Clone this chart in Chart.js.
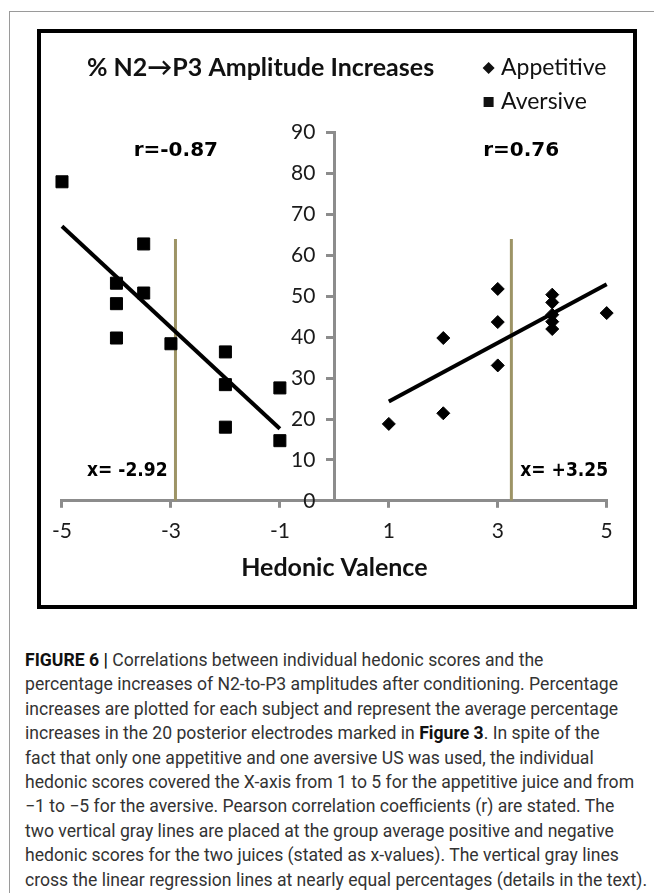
<!DOCTYPE html>
<html>
<head>
<meta charset="utf-8">
<script src="https://cdn.jsdelivr.net/npm/chart.js@4.4.1/dist/chart.umd.min.js"></script>
<style>
  html, body { margin: 0; padding: 0; background: #fff; }
  body { width: 654px; height: 893px; position: relative; overflow: hidden; }
  .page { position: absolute; left: 9px; top: 11px; width: 700px; height: 900px;
          border-left: 1px solid #9a9a9a; border-top: 1px solid #9a9a9a; }
  .frame { position: absolute; left: 37px; top: 29px; width: 592px; height: 572px; border: 4px solid #000; }
  #chartWrap { position: absolute; left: 41px; top: 33px; width: 592px; height: 572px; }
  .caption { position: absolute; left: 25px; top: 648px; font-family: Roboto, sans-serif; font-size: 17.6px;
             line-height: 24.4px; color: #333; white-space: nowrap; }
  .caption b { color: #111; }
</style>
</head>
<body>
<div class="page"></div>
<div class="frame"></div>
<div id="chartWrap"><canvas id="hedonicChart"></canvas></div>
<div class="caption">
  <b>FIGURE 6 |</b> Correlations between individual hedonic scores and the<br>
  percentage increases of N2-to-P3 amplitudes after conditioning. Percentage<br>
  increases are plotted for each subject and represent the average percentage<br>
  increases in the 20 posterior electrodes marked in <b>Figure 3</b>. In spite of the<br>
  fact that only one appetitive and one aversive US was used, the individual<br>
  hedonic scores covered the X-axis from 1 to 5 for the appetitive juice and from<br>
  &minus;1 to &minus;5 for the aversive. Pearson correlation coefficients (r) are stated. The<br>
  two vertical gray lines are placed at the group average positive and negative<br>
  hedonic scores for the two juices (stated as x-values). The vertical gray lines<br>
  cross the linear regression lines at nearly equal percentages (details in the text).
</div>
<script>
// hedonic scores (x) and % N2->P3 amplitude increase (y) per subject
const appetitiveX = [1, 2, 2, 3, 3, 3, 4, 4, 4, 4, 4, 5];
const appetitiveY = [18.8, 39.8, 21.4, 51.8, 43.7, 33.1, 50.4, 48.5, 45.5, 43.8, 42.0, 45.9];
const aversiveX = [-5, -4, -4, -4, -3.5, -3.5, -3, -2, -2, -2, -1, -1];
const aversiveY = [78.0, 53.2, 48.2, 39.8, 62.8, 50.8, 38.4, 36.4, 28.4, 18.0, 27.6, 14.7];

const xTicks = [-5, -3, -1, 1, 3, 5];
const yTicks = [0, 10, 20, 30, 40, 50, 60, 70, 80, 90];
const meanLineSpan = [0, 64];          // vertical gray lines drawn from y=0 up to ~64
const rLabels = ['r=-0.87', 'r=0.76'];
const meanLabels = ['x= -2.92', 'x= +3.25'];
const seriesNames = ['Appetitive', 'Aversive'];
const chartTitle = '% N2\u2192P3 Amplitude Increases';

Chart.defaults.font.family = 'Lato, sans-serif';
Chart.defaults.color = '#1a1a1a';

function toPoints(xs, ys) {
    return xs.map((x, i) => ({ x: x, y: ys[i] }));
}

function mean(arr) {
    return arr.reduce((a, b) => a + b, 0) / arr.length;
}

// least squares line across the range of the scores
function fitLine(xs, ys) {
    const mx = mean(xs), my = mean(ys);
    let sxy = 0, sxx = 0;
    xs.forEach((x, i) => { sxy += (x - mx) * (ys[i] - my); sxx += (x - mx) * (x - mx); });
    const slope = sxy / sxx;
    const x0 = Math.min(...xs), x1 = Math.max(...xs);
    return [{ x: x0, y: my + slope * (x0 - mx) }, { x: x1, y: my + slope * (x1 - mx) }];
}

function meanLine(xs) {
    const m = mean(xs);
    return [{ x: m, y: meanLineSpan[0] }, { x: m, y: meanLineSpan[1] }];
}

const axisGray = '#8c8c8c';
const guideColor = '#9d9466';

// title, legend and the r / x= labels
const figureText = {
    id: 'figureText',
    afterDraw(chart) {
        const { ctx, scales: { x, y } } = chart;
        ctx.save();
        ctx.fillStyle = '#111';
        ctx.textBaseline = 'middle';

        ctx.textAlign = 'left';
        ctx.font = 'bold 25px Lato';
        ctx.fillText(chartTitle, 46, 35);

        ctx.font = '23px Lato';
        // diamond
        ctx.beginPath();
        ctx.moveTo(447.6, 35 - 6); ctx.lineTo(453.6, 35); ctx.lineTo(447.6, 35 + 6); ctx.lineTo(441.6, 35);
        ctx.closePath(); ctx.fill();
        ctx.fillText(seriesNames[0], 460, 35);
        // square
        ctx.fillRect(442.6, 69 - 5, 10, 10);
        ctx.fillText(seriesNames[1], 460, 69);

        ctx.fillStyle = '#000';
        ctx.textAlign = 'center';
        ctx.font = 'bold 20px "DejaVu Sans"';
        ctx.fillText(rLabels[0], x.getPixelForValue(-2.91), y.getPixelForValue(85.6));
        ctx.fillText(rLabels[1], x.getPixelForValue(3.43), y.getPixelForValue(85.6));
        ctx.font = 'bold 19px "DejaVu Sans Condensed", "DejaVu Sans"';
        ctx.fillText(meanLabels[0], x.getPixelForValue(-3.8), y.getPixelForValue(7.3));
        ctx.fillText(meanLabels[1], x.getPixelForValue(4.22), y.getPixelForValue(7.3));
        ctx.restore();
    }
};

const ctx = document.getElementById('hedonicChart').getContext('2d');
new Chart(ctx, {
    type: 'scatter',
    data: {
        datasets: [
            { label: seriesNames[0], data: toPoints(appetitiveX, appetitiveY), pointStyle: 'rectRot',
              pointRadius: 6.5, backgroundColor: '#000', borderColor: '#000', borderWidth: 1, order: 1, clip: false },
            { label: seriesNames[1], data: toPoints(aversiveX, aversiveY), pointStyle: 'rect',
              pointRadius: 8.5, backgroundColor: '#000', borderColor: '#000', borderWidth: 1, order: 1, clip: false },
            { type: 'line', data: fitLine(aversiveX, aversiveY), borderColor: '#000', borderWidth: 4,
              pointRadius: 0, fill: false, order: 0, clip: false },
            { type: 'line', data: fitLine(appetitiveX, appetitiveY), borderColor: '#000', borderWidth: 4,
              pointRadius: 0, fill: false, order: 0, clip: false },
            { type: 'line', data: meanLine(aversiveX), borderColor: guideColor, borderWidth: 3,
              pointRadius: 0, fill: false, order: 2 },
            { type: 'line', data: meanLine(appetitiveX), borderColor: guideColor, borderWidth: 3,
              pointRadius: 0, fill: false, order: 2 }
        ]
    },
    options: {
        responsive: true,
        maintainAspectRatio: false,
        animation: false,
        layout: { padding: { left: 19.7, right: 26.3, top: 99.7, bottom: 25 } },
        plugins: { legend: { display: false }, tooltip: { enabled: false } },
        scales: {
            x: {
                type: 'linear', min: xTicks[0], max: xTicks[xTicks.length - 1],
                afterBuildTicks: scale => { scale.ticks = xTicks.map(v => ({ value: v })); },
                border: { color: axisGray, width: 3 },
                grid: { drawOnChartArea: false, drawTicks: true, tickLength: 7, color: axisGray, lineWidth: 3 },
                ticks: { font: { size: 21 }, color: '#1a1a1a', padding: 11, maxRotation: 0 },
                title: { display: true, text: 'Hedonic Valence', color: '#111',
                         font: { size: 25, weight: 'bold', lineHeight: 1 }, padding: { top: 0, bottom: 0 } }
            },
            y: {
                type: 'linear', position: 'center', min: yTicks[0], max: yTicks[yTicks.length - 1],
                afterBuildTicks: scale => { scale.ticks = yTicks.map(v => ({ value: v })); },
                border: { color: axisGray, width: 3 },
                grid: { drawOnChartArea: false, drawTicks: true, tickLength: 7, color: axisGray, lineWidth: 3 },
                ticks: { font: { size: 21 }, color: '#1a1a1a', padding: 12 }
            }
        }
    },
    plugins: [figureText]
});
</script>
</body>
</html>
